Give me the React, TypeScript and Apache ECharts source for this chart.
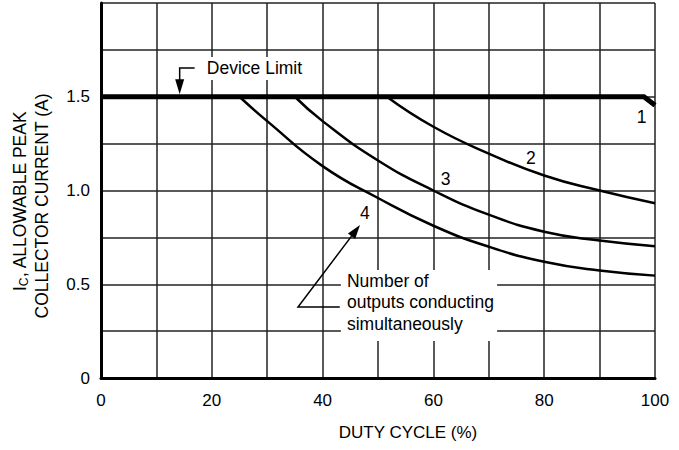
import React, { useEffect, useRef } from "react";
import * as echarts from "echarts";

const FONT = "'Liberation Sans', Arial, Helvetica, sans-serif";

// Axis ticks (labels shown)
const xTickLabels = [0, 20, 40, 60, 80, 100];
const yTickLabels = [0, 0.5, 1.0, 1.5];

// Curves: [duty cycle %, allowable peak collector current A]
const curve1 = [[0, 1.5], [98, 1.5], [100, 1.455]];
const curve2 = [[51.6, 1.5], [60, 1.34], [70, 1.197], [80, 1.08], [90, 1.0], [100, 0.932]];
const curve3 = [[35, 1.5], [40, 1.37], [50, 1.16], [60, 1.0], [70, 0.871], [80, 0.78], [90, 0.733], [100, 0.703]];
const curve4 = [[25, 1.5], [30, 1.37], [40, 1.13], [50, 0.96], [60, 0.812], [70, 0.7], [80, 0.62], [90, 0.573], [100, 0.546]];

// Curve labels (number of outputs conducting)
const curveLabelNames = ["1", "2", "3", "4"];
const curveLabelPos = [[97.6, 1.394], [77.6, 1.172], [62.2, 1.06], [47.65, 0.882]];

// Annotation texts
const deviceLimitText = "Device Limit";
const noteLines = ["Number of", "outputs conducting", "simultaneously"];

export default function App() {
  const ref = useRef<HTMLDivElement>(null);
  useEffect(() => {
    const chart = echarts.init(ref.current!, null, { renderer: "svg" });
    const lineSeries = (name: string, data: number[][], width: number, smooth: number) => ({
      name,
      type: "line",
      data,
      smooth,
      symbol: "none",
      silent: true,
      lineStyle: { color: "#000", width, cap: "butt", join: "miter" },
      z: 3,
    });
    chart.setOption({
      animation: false,
      backgroundColor: "#fff",
      grid: { left: 101, right: 24, top: 3, bottom: 72 },
      xAxis: {
        type: "value",
        min: 0,
        max: 100,
        interval: 10,
        axisLine: { show: true, onZero: false, lineStyle: { color: "#000", width: 3 } },
        axisTick: { show: false },
        axisLabel: {
          formatter: (v: number) => (xTickLabels.includes(v) ? String(v) : ""),
          margin: 14,
          color: "#000",
          fontSize: 17,
          fontFamily: FONT,
        },
        splitLine: { show: true, lineStyle: { color: "#222", width: 1.5 } },
      },
      yAxis: {
        type: "value",
        min: 0,
        max: 2,
        interval: 0.25,
        axisLine: { show: true, onZero: false, lineStyle: { color: "#000", width: 3 } },
        axisTick: { show: false },
        axisLabel: {
          formatter: (v: number) =>
            yTickLabels.some((t) => Math.abs(t - v) < 1e-9) ? (v === 0 ? "0" : v.toFixed(1)) : "",
          margin: 11,
          color: "#000",
          fontSize: 17,
          fontFamily: FONT,
        },
        splitLine: { show: true, lineStyle: { color: "#222", width: 1.5 } },
      },
      series: [
        lineSeries("1", curve1, 5, 0),
        lineSeries("2", curve2, 2.5, 0.5),
        lineSeries("3", curve3, 2.5, 0.5),
        lineSeries("4", curve4, 2.5, 0.5),
      ],
    });

    const P = (x: number, y: number) => chart.convertToPixel({ gridIndex: 0 }, [x, y]) as number[];

    // Device limit arrow
    const dA = P(14.2, 1.653);
    const dTip = P(14.2, 1.513);
    const dH = P(16.9, 1.653);
    const dText = P(19.1, 1.653);
    const dBox0 = P(18.4, 1.712);
    const dBox1 = P(36.8, 1.589);

    // Number-of-outputs arrow
    const tip = P(46.75, 0.816);
    const tail = P(35.56, 0.379);
    const hEnd = P(43.1, 0.379);
    const b0 = P(43.3, 0.576);
    const b1 = P(71.5, 0.197);
    const noteX = P(44.4, 0)[0];
    const noteY = [0.517, 0.403, 0.288].map((v) => P(0, v)[1]);

    const dx = tip[0] - tail[0];
    const dy = tip[1] - tail[1];
    const len = Math.sqrt(dx * dx + dy * dy);
    const ux = dx / len, uy = dy / len;
    const hl = 14, hw = 4.5;
    const bx = tip[0] - ux * hl, by = tip[1] - uy * hl;

    const textStyle = { fill: "#000", fontSize: 17.5, fontFamily: FONT };

    chart.setOption({
      graphic: [
        // white boxes behind texts
        {
          type: "rect",
          z: 50,
          shape: { x: dBox0[0], y: dBox0[1], width: dBox1[0] - dBox0[0], height: dBox1[1] - dBox0[1] },
          style: { fill: "#fff" },
        },
        {
          type: "rect",
          z: 50,
          shape: { x: b0[0], y: b0[1], width: b1[0] - b0[0], height: b1[1] - b0[1] },
          style: { fill: "#fff" },
        },
        {
          type: "polyline",
          z: 60,
          shape: { points: [dH, dA, [dA[0], dTip[1] - 12]] },
          style: { stroke: "#000", lineWidth: 1.5, fill: null },
        },
        {
          type: "polygon",
          z: 60,
          shape: { points: [[dTip[0], dTip[1]], [dTip[0] - 4.5, dTip[1] - 15], [dTip[0] + 4.5, dTip[1] - 15]] },
          style: { fill: "#000" },
        },
        {
          type: "text",
          z: 60,
          x: dText[0],
          y: dText[1],
          style: { ...textStyle, text: deviceLimitText, align: "left", verticalAlign: "middle" },
        },
        {
          type: "polyline",
          z: 60,
          shape: { points: [hEnd, tail, [bx, by]] },
          style: { stroke: "#000", lineWidth: 1.5, fill: null },
        },
        {
          type: "polygon",
          z: 60,
          shape: {
            points: [
              [tip[0], tip[1]],
              [bx - uy * hw, by + ux * hw],
              [bx + uy * hw, by - ux * hw],
            ],
          },
          style: { fill: "#000" },
        },
        ...noteLines.map((t, i) => ({
          type: "text",
          z: 60,
          x: noteX,
          y: noteY[i],
          style: { ...textStyle, text: t, align: "left", verticalAlign: "middle" },
        })),
        // curve labels
        ...curveLabelPos.map((p, i) => {
          const q = P(p[0], p[1]);
          return {
            type: "text",
            z: 60,
            x: q[0],
            y: q[1],
            style: { ...textStyle, text: curveLabelNames[i], align: "center", verticalAlign: "middle" },
          };
        }),
        // x axis title
        {
          type: "text",
          z: 60,
          x: 408,
          y: 432,
          style: { ...textStyle, fontSize: 17, text: "DUTY CYCLE (%)", align: "center", verticalAlign: "middle" },
        },
        // y axis title
        {
          type: "group",
          x: 31,
          y: 204,
          rotation: Math.PI / 2,
          z: 60,
          children: [
            {
              type: "text",
              x: 3,
              y: -11,
              style: {
                text: "{a|I}{b|C}{a|, ALLOWABLE PEAK}",
                align: "center",
                verticalAlign: "middle",
                fill: "#000",
                fontFamily: FONT,
                fontSize: 17.5,
                rich: {
                  a: { fontSize: 17.5, fontFamily: FONT, fill: "#000", lineHeight: 20 },
                  b: { fontSize: 12, fontFamily: FONT, fill: "#000", lineHeight: 10, verticalAlign: "bottom" },
                },
              },
            },
            {
              type: "text",
              x: -2,
              y: 11,
              style: {
                text: "COLLECTOR CURRENT (A)",
                align: "center",
                verticalAlign: "middle",
                fill: "#000",
                fontFamily: FONT,
                fontSize: 17.5,
              },
            },
          ],
        },
      ],
    });

    return () => chart.dispose();
  }, []);
  return <div ref={ref} style={{ position: "absolute", left: 0, top: 0, width: 679, height: 450 }} />;
}
